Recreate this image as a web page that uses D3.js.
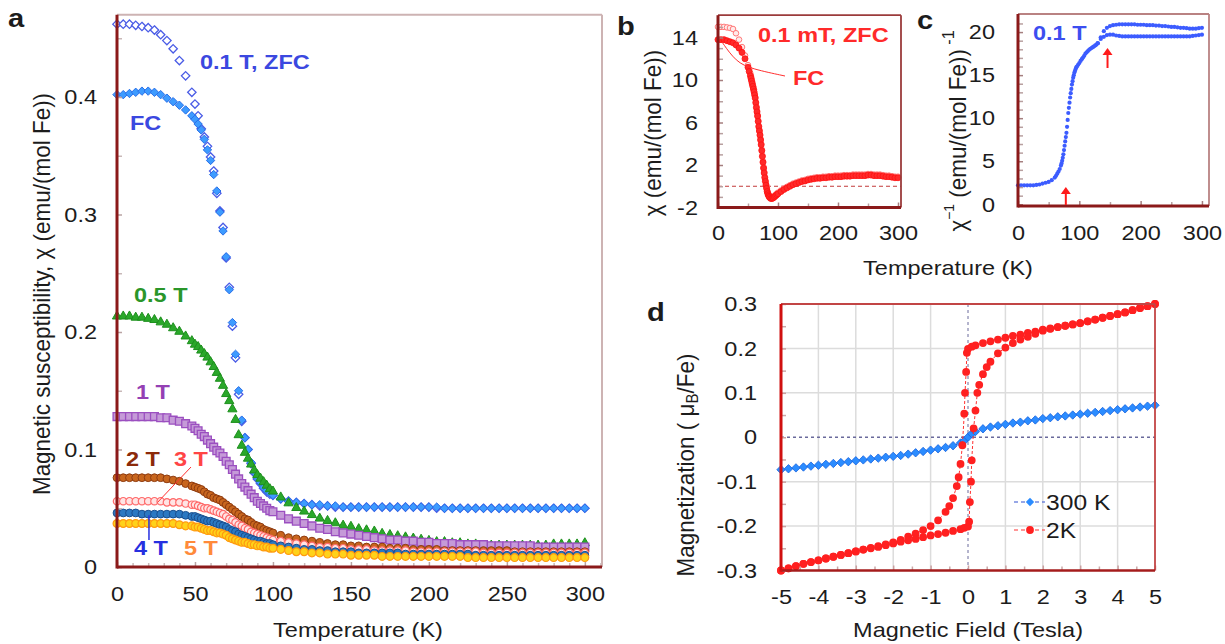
<!DOCTYPE html>
<html>
<head>
<meta charset="utf-8">
<script src="https://cdn.jsdelivr.net/npm/d3@7"></script>
<style>
  body { margin: 0; background: #fff; }
  svg text { font-family: "Liberation Sans", Arial, sans-serif; }
</style>
</head>
<body>
<svg id="fig" width="1225" height="644"></svg>
<script>
(function(){

	// ---------- panel a : chi(T) at several fields ----------
	const tA = [0,4,8,12,16,20,24,28,32,36,40,44,48,
		50,52,54,56,58,60,62,64,66,68,70,72,74,76,78,80,82,84,86,88,90,92,94,96,98,100,
		105,110,115,120,125,130,135,140,145,150,155,160,165,170,175,180,185,190,195,200,
		205,210,215,220,225,230,235,240,245,250,255,260,265,270,275,280,285,290,295,300];

	const zfc01 = [0.462,0.462,0.462,0.461,0.460,0.459,0.457,0.453,0.448,0.441,0.431,0.418,0.404,
		0.394,0.384,0.373,0.366,0.358,0.349,0.337,0.318,0.303,0.289,0.263,0.238,0.205,0.178,0.147,0.124,0.110,0.100,0.088,0.080,0.075,0.071,0.067,0.064,0.062,0.061,
		0.058,0.056,0.055,0.054,0.053,0.052,0.052,0.051,0.051,0.051,0.051,0.051,0.051,0.051,0.051,0.051,0.051,0.051,0.051,0.051,
		0.050,0.050,0.050,0.050,0.050,0.050,0.050,0.050,0.050,0.050,0.050,0.050,0.050,0.050,0.050,0.050,0.050,0.050,0.050,0.050];
	const fc01 = [0.402,0.402,0.403,0.404,0.405,0.405,0.404,0.402,0.399,0.396,0.393,0.389,0.384,
		0.381,0.377,0.372,0.364,0.355,0.346,0.334,0.320,0.302,0.286,0.264,0.236,0.208,0.181,0.150,0.125,0.110,0.100,0.089,0.081,0.076,0.072,0.068,0.065,0.063,0.061,
		0.058,0.056,0.055,0.054,0.053,0.053,0.052,0.052,0.051,0.051,0.051,0.051,0.051,0.051,0.051,0.051,0.051,0.051,0.051,0.051,
		0.051,0.050,0.050,0.050,0.050,0.050,0.050,0.050,0.050,0.050,0.050,0.050,0.050,0.050,0.050,0.050,0.050,0.050,0.050,0.050];
	const chi05 = [0.214,0.214,0.214,0.213,0.213,0.212,0.211,0.209,0.207,0.204,0.201,0.197,0.193,
		0.190,0.188,0.185,0.182,0.179,0.175,0.171,0.166,0.161,0.155,0.148,0.142,0.135,0.126,0.113,0.104,0.098,0.093,0.088,0.083,0.079,0.076,0.073,0.070,0.067,0.065,
		0.060,0.055,0.051,0.048,0.045,0.042,0.040,0.038,0.036,0.035,0.033,0.032,0.031,0.029,0.028,0.027,0.026,0.025,0.024,0.023,
		0.022,0.022,0.021,0.021,0.020,0.020,0.019,0.019,0.019,0.019,0.019,0.019,0.019,0.019,0.019,0.020,0.020,0.020,0.020,0.021];
	const chi1 = [0.128,0.128,0.128,0.128,0.128,0.128,0.128,0.127,0.127,0.125,0.124,0.122,0.120,
		0.118,0.116,0.113,0.111,0.108,0.105,0.102,0.099,0.097,0.094,0.090,0.087,0.083,0.079,0.075,0.071,0.068,0.065,0.062,0.059,0.056,0.054,0.052,0.050,0.048,0.047,
		0.044,0.041,0.039,0.037,0.035,0.033,0.032,0.030,0.029,0.028,0.027,0.026,0.025,0.024,0.023,0.023,0.022,0.022,0.021,0.021,
		0.020,0.020,0.020,0.019,0.019,0.019,0.019,0.018,0.018,0.018,0.018,0.018,0.018,0.017,0.017,0.017,0.017,0.017,0.017,0.017];
	const chi2 = [0.076,0.076,0.076,0.076,0.076,0.076,0.076,0.076,0.075,0.074,0.073,0.071,0.069,
		0.068,0.067,0.066,0.064,0.062,0.061,0.059,0.058,0.057,0.055,0.053,0.051,0.049,0.047,0.045,0.043,0.041,0.040,0.038,0.036,0.035,0.034,0.032,0.031,0.030,0.029,
		0.027,0.025,0.024,0.023,0.022,0.021,0.020,0.019,0.019,0.018,0.018,0.017,0.017,0.017,0.016,0.016,0.016,0.015,0.015,0.015,
		0.015,0.014,0.014,0.014,0.014,0.014,0.014,0.014,0.014,0.014,0.013,0.013,0.013,0.013,0.013,0.013,0.013,0.013,0.013,0.013];
	const chi3 = [0.056,0.056,0.056,0.056,0.056,0.056,0.056,0.056,0.055,0.055,0.055,0.054,0.053,
		0.053,0.052,0.051,0.050,0.050,0.049,0.048,0.047,0.046,0.045,0.043,0.041,0.040,0.038,0.036,0.035,0.033,0.032,0.030,0.029,0.028,0.027,0.026,0.025,0.024,0.023,
		0.022,0.021,0.020,0.019,0.018,0.017,0.017,0.016,0.016,0.015,0.015,0.015,0.014,0.014,0.014,0.014,0.014,0.013,0.013,0.013,
		0.013,0.013,0.013,0.013,0.013,0.013,0.012,0.012,0.012,0.012,0.012,0.012,0.012,0.012,0.012,0.012,0.012,0.012,0.012,0.012];
	const chi4 = [0.046,0.046,0.046,0.046,0.045,0.045,0.045,0.045,0.045,0.045,0.045,0.044,0.043,
		0.043,0.042,0.041,0.040,0.039,0.039,0.038,0.037,0.036,0.035,0.034,0.032,0.031,0.030,0.028,0.027,0.026,0.025,0.024,0.023,0.022,0.022,0.021,0.020,0.020,0.019,
		0.018,0.017,0.016,0.015,0.015,0.014,0.014,0.013,0.013,0.013,0.012,0.012,0.012,0.012,0.012,0.012,0.011,0.011,0.011,0.011,
		0.011,0.011,0.011,0.011,0.011,0.010,0.010,0.010,0.010,0.010,0.010,0.010,0.010,0.010,0.010,0.010,0.010,0.010,0.010,0.010];
	const chi5 = [0.037,0.037,0.037,0.037,0.037,0.037,0.037,0.037,0.037,0.037,0.036,0.035,0.035,
		0.034,0.034,0.033,0.032,0.031,0.031,0.030,0.029,0.029,0.028,0.027,0.025,0.024,0.023,0.022,0.021,0.021,0.020,0.019,0.019,0.018,0.018,0.017,0.017,0.016,0.016,
		0.015,0.014,0.013,0.013,0.012,0.012,0.011,0.011,0.011,0.010,0.010,0.010,0.010,0.009,0.009,0.009,0.009,0.009,0.009,0.009,
		0.009,0.009,0.009,0.009,0.008,0.008,0.008,0.008,0.008,0.008,0.008,0.008,0.008,0.008,0.008,0.008,0.008,0.008,0.008,0.008];

	const ticksTA = [0,50,100,150,200,250,300];
	const ticksChiA = [0,0.1,0.2,0.3,0.4];

	// ---------- panel b : chi(T) at 0.1 mT ----------
	const tB = [0,5,10,15,20,25,30,35,40,45,50,52,54,
		55,56,57,58,59,60,61,62,63,64,65,66,67,68,69,70,71,72,73,74,75,76,77,78,79,80,81,82,83,84,85,
		86,88,90,92,94,96,98,100,
		105,110,115,120,125,130,135,140,145,150,155,160,165,170,175,180,185,190,195,200,
		205,210,215,220,225,230,235,240,245,250,255,260,265,270,275,280,285,290,295,300];
	const zfcB = [15.0,15.0,15.0,14.95,14.9,14.8,14.4,13.8,13.1,12.3,11.4,11.0,10.6,
		10.35,10.1,9.85,9.6,9.35,9.1,8.75,8.4,7.95,7.5,7.1,6.7,6.2,5.7,5.3,4.9,4.45,4.0,3.45,2.9,2.35,1.8,1.35,0.9,0.55,0.2,-0.1,-0.4,-0.6,-0.75,-0.85,
		-0.95,-1.05,-1.05,-1.0,-0.9,-0.8,-0.7,-0.6,
		-0.4,-0.2,-0.05,0.1,0.25,0.35,0.45,0.55,0.6,0.7,0.75,0.8,0.85,0.85,0.9,0.9,0.95,0.95,1.0,1.0,
		1.0,1.05,1.05,1.05,1.1,1.1,1.1,1.1,1.1,1.15,1.15,1.1,1.1,1.1,1.05,1.0,1.0,0.95,0.9,0.9];
	const fcB = [13.8,13.8,13.8,13.7,13.6,13.5,13.3,13.0,12.6,12.0,11.2,10.8,10.4,
		10.15,9.9,9.65,9.4,9.15,8.9,8.6,8.3,7.85,7.4,7.0,6.6,6.1,5.6,5.2,4.8,4.35,3.9,3.35,2.8,2.25,1.7,1.25,0.8,0.45,0.1,-0.2,-0.5,-0.7,-0.85,-0.95,
		-1.05,-1.15,-1.15,-1.1,-1.0,-0.9,-0.8,-0.7,
		-0.5,-0.3,-0.15,0.0,0.15,0.25,0.35,0.45,0.5,0.6,0.65,0.7,0.75,0.75,0.8,0.8,0.85,0.85,0.9,0.9,
		0.9,0.95,0.95,0.95,1.0,1.0,1.0,1.0,1.0,1.05,1.05,1.0,1.0,1.0,0.95,0.9,0.9,0.85,0.8,0.8];
	const ticksTB = [0,100,200,300];
	const ticksChiB = [-2,2,6,10,14];

	// ---------- panel c : inverse chi at 0.1 T ----------
	const tC = [0,5,10,15,20,25,30,35,40,45,50,55,60,
		62,64,66,68,70,
		71,72,73,74,75,76,77,78,79,80,81,82,83,84,85,86,87,88,89,90,91,92,93,94,95,
		96,98,100,102,104,106,108,110,112,114,116,118,120,122,124,126,128,130];
	const invChiC = [2.2,2.2,2.2,2.2,2.2,2.2,2.25,2.3,2.4,2.5,2.6,2.8,3.1,
		3.3,3.55,3.8,4.1,4.5,
		4.75,5.05,5.4,5.8,6.3,6.8,7.3,7.8,8.3,9.0,9.8,10.6,11.2,11.8,12.4,12.9,13.4,13.9,14.3,14.7,15.0,15.3,15.5,15.7,15.9,
		16.0,16.2,16.4,16.65,16.85,17.05,17.25,17.5,17.65,17.8,17.95,18.05,18.15,18.25,18.35,18.45,18.55,18.7];
	const tCHigh = [130,135,140,145,150,155,160,165,170,175,180,185,190,195,200,205,210,215,220,
		225,230,235,240,245,250,255,260,265,270,275,280,285,290,295,300];
	const invChiUpper = [18.7,19.4,20.1,20.5,20.7,20.8,20.85,20.9,20.9,20.9,20.9,20.9,20.9,20.85,20.85,20.85,20.8,20.8,20.8,
		20.75,20.75,20.7,20.7,20.65,20.6,20.6,20.55,20.5,20.5,20.45,20.4,20.4,20.4,20.45,20.5];
	const invChiLower = [18.7,19.2,19.45,19.65,19.7,19.7,19.6,19.55,19.5,19.5,19.5,19.5,19.5,19.5,19.5,19.5,19.5,19.5,19.5,
		19.5,19.5,19.5,19.5,19.5,19.5,19.5,19.5,19.5,19.5,19.5,19.5,19.55,19.6,19.65,19.7];
	const ticksTC = [0,100,200,300];
	const ticksInvC = [0,5,10,15,20];

	// ---------- panel d : M(H) ----------
	const h300 = [-5,-4.8,-4.6,-4.4,-4.2,-4,-3.8,-3.6,-3.4,-3.2,-3,-2.8,-2.6,-2.4,-2.2,-2,-1.8,-1.6,-1.4,-1.2,-1,-0.8,-0.6,-0.4,-0.2,-0.1,
		0,0.1,0.2,0.4,0.6,0.8,1,1.2,1.4,1.6,1.8,2,2.2,2.4,2.6,2.8,3,3.2,3.4,3.6,3.8,4,4.2,4.4,4.6,4.8,5];
	const m300 = [-0.073,-0.071,-0.069,-0.067,-0.065,-0.063,-0.061,-0.059,-0.057,-0.055,-0.053,-0.051,-0.049,-0.047,-0.045,-0.043,-0.041,-0.038,-0.035,-0.032,-0.029,-0.026,-0.023,-0.019,-0.013,-0.008,
		0,0.008,0.013,0.019,0.023,0.026,0.029,0.032,0.034,0.037,0.039,0.042,0.044,0.046,0.048,0.050,0.052,0.054,0.056,0.058,0.060,0.062,0.064,0.066,0.068,0.070,0.072];

	const h2down = [5,4.8,4.6,4.4,4.2,4,3.8,3.6,3.4,3.2,3,2.8,2.6,2.4,2.2,2,1.8,1.6,1.4,1.2,1,0.8,0.6,0.4,0.2,0.1,0,
		-0.03,-0.05,-0.08,-0.1,-0.15,-0.2,-0.25,-0.3,-0.4,-0.5,-0.6,-0.8,
		-1,-1.2,-1.4,-1.6,-1.8,-2,-2.2,-2.4,-2.6,-2.8,-3,-3.2,-3.4,-3.6,-3.8,-4,-4.2,-4.4,-4.6,-4.8,-5];
	const m2down = [0.300,0.295,0.291,0.286,0.281,0.277,0.273,0.269,0.265,0.261,0.257,0.254,0.251,0.248,0.245,0.242,0.238,0.235,0.231,0.228,0.224,0.220,0.216,0.212,0.207,0.204,0.199,
		0.190,0.147,0.100,0.053,-0.018,-0.060,-0.090,-0.110,-0.137,-0.155,-0.168,-0.187,
		-0.200,-0.209,-0.217,-0.224,-0.231,-0.237,-0.241,-0.245,-0.249,-0.253,-0.257,-0.261,-0.265,-0.269,-0.273,-0.277,-0.281,-0.285,-0.290,-0.295,-0.300];
	const h2up = [-5,-4.8,-4.6,-4.4,-4.2,-4,-3.8,-3.6,-3.4,-3.2,-3,-2.8,-2.6,-2.4,-2.2,-2,-1.8,-1.6,-1.4,-1.2,-1,-0.8,-0.6,-0.4,-0.2,-0.1,0,
		0.03,0.05,0.08,0.1,0.15,0.2,0.25,0.3,0.4,0.5,0.6,0.8,
		1,1.2,1.4,1.6,1.8,2,2.2,2.4,2.6,2.8,3,3.2,3.4,3.6,3.8,4,4.2,4.4,4.6,4.8,5];
	const m2up = [-0.300,-0.295,-0.290,-0.285,-0.281,-0.277,-0.273,-0.269,-0.265,-0.261,-0.257,-0.253,-0.250,-0.247,-0.243,-0.239,-0.235,-0.232,-0.229,-0.225,-0.221,-0.218,-0.215,-0.211,-0.207,-0.204,-0.201,
		-0.190,-0.146,-0.100,-0.052,0.020,0.060,0.100,0.118,0.142,0.158,0.170,0.189,
		0.202,0.212,0.220,0.226,0.233,0.240,0.244,0.248,0.251,0.254,0.257,0.261,0.265,0.269,0.273,0.277,0.281,0.286,0.291,0.295,0.300];
	const ticksH = [-5,-4,-3,-2,-1,0,1,2,3,4,5];
	const ticksM = [-0.3,-0.2,-0.1,0,0.1,0.2,0.3];

	const svg = d3.select("#fig");
	const tickFont = 21;
	// the figure looks a little stretched sideways: text is widened to match
	const SX = 1.12, SR = 1.07;

	// marker shapes
	function diamond(r){ return `M0,${-r}L${r},0L0,${r}L${-r},0Z`; }
	function triangle(r){ return `M0,${-r}L${r},${r*0.75}L${-r},${r*0.75}Z`; }
	function square(r){ return `M${-r},${-r}H${r}V${r}H${-r}Z`; }
	function circle(r){ return `M${-r},0A${r},${r} 0 1,0 ${r},0A${r},${r} 0 1,0 ${-r},0Z`; }

	function drawSeries(g, xs, ys, xv, yv, o) {
		const pts = xv.map((v, i) => [v, yv[i]]);
		if (o.line) {
			g.append("path").datum(pts)
				.attr("d", d3.line().x(d => xs(d[0])).y(d => ys(d[1])))
				.attr("fill", "none").attr("stroke", o.line)
				.attr("stroke-width", 1).attr("stroke-dasharray", "3,2");
		}
		g.append("g").selectAll("path").data(pts).enter().append("path")
			.attr("transform", d => `translate(${xs(d[0])},${ys(d[1])})`)
			.attr("d", o.shape)
			.attr("fill", o.fill)
			.attr("stroke", o.stroke || "none")
			.attr("stroke-width", o.sw || 1);
	}

	function styleAxis(sel, tickColor) {
		sel.select(".domain").remove();
		sel.selectAll(".tick line").attr("stroke", tickColor).attr("stroke-width", 1.5);
		sel.selectAll(".tick text").attr("font-size", tickFont).attr("fill", "#1c1c1c")
			.attr("transform", `scale(${SX},1)`)
			.style("font-family", '"Liberation Sans", Arial, sans-serif');
	}

	// draw axes box and tick marks of one panel
	function frame(g, xs, ys, o) {
		const [x0, x1] = xs.range();
		const [y0, y1] = ys.range();
		if (o.xMinor) {
			const ax = g.append("g").attr("transform", `translate(0,${y0})`)
				.call(d3.axisBottom(xs).tickValues(o.xMinor).tickSize(-4).tickFormat(""));
			styleAxis(ax, o.minorColor);
		}
		if (o.yMinor) {
			const ay = g.append("g").attr("transform", `translate(${x0},0)`)
				.call(d3.axisLeft(ys).tickValues(o.yMinor).tickSize(-5).tickFormat(""));
			styleAxis(ay, o.minorColor);
		}
		const axB = g.append("g").attr("transform", `translate(0,${y0})`)
			.call(d3.axisBottom(xs).tickValues(o.xTicks).tickSize(-5).tickPadding(o.xPad).tickFormat(o.xFmt));
		styleAxis(axB, o.majorColor);
		const axL = g.append("g").attr("transform", `translate(${x0},0)`)
			.call(d3.axisLeft(ys).tickValues(o.yTicks).tickSize(-5).tickPadding(o.yGap / SX).tickFormat(o.yFmt));
		styleAxis(axL, o.majorColor);

		g.append("line").attr("x1", x0).attr("x2", x1).attr("y1", y1).attr("y2", y1)
			.attr("stroke", o.border).attr("stroke-width", o.borderW);
		g.append("line").attr("x1", x1).attr("x2", x1).attr("y1", y0).attr("y2", y1)
			.attr("stroke", o.border).attr("stroke-width", o.borderW);
		g.append("line").attr("x1", x0).attr("x2", x1).attr("y1", y0).attr("y2", y0)
			.attr("stroke", o.bottom).attr("stroke-width", o.bottomW);
		g.append("line").attr("x1", x0).attr("x2", x0).attr("y1", y0 + o.bottomW / 2).attr("y2", y1)
			.attr("stroke", o.left).attr("stroke-width", o.leftW);
	}

	function label(g, x, y, txt, o) {
		const tr = o.rotate
			? `translate(${x},${y}) rotate(-90) scale(${SR},${SX})`
			: `translate(${x},${y}) scale(${SX},1)`;
		return g.append("text").attr("transform", tr).text(txt)
			.attr("font-size", o.size || 21).attr("fill", o.color || "#1c1c1c")
			.attr("font-weight", o.bold ? "bold" : "normal")
			.attr("text-anchor", o.anchor || "start")
			.attr("dominant-baseline", "central");
	}

	const fmt1 = d => d === 0 ? "0" : d.toFixed(1);
	const fmtInt = d => String(d);

	// ================= panel a =================
	const gA = svg.append("g");
	const xA = d3.scaleLinear().domain([0, 311]).range([117, 602]);
	const yA = d3.scaleLinear().domain([0, 0.47]).range([567, 14.75]);

	drawSeries(gA, xA, yA, tA, zfc01, {shape: diamond(4.2), fill: "#ffffff", stroke: "#4a5ce6", sw: 1.3});
	drawSeries(gA, xA, yA, tA, fc01, {shape: diamond(4.2), fill: "#3d9bff", stroke: "#2a6fe8", sw: 1});
	drawSeries(gA, xA, yA, tA, chi05, {shape: triangle(4.6), fill: "#2aa82a", stroke: "#1d8f1d", sw: 1});
	drawSeries(gA, xA, yA, tA, chi1, {shape: square(3.9), fill: "#c59ad8", stroke: "#9b4fc0", sw: 1.3});
	drawSeries(gA, xA, yA, tA, chi2, {shape: circle(3.9), fill: "#c8661e", stroke: "#8e3b10", sw: 1});
	drawSeries(gA, xA, yA, tA, chi3, {shape: circle(3.7), fill: "#ffe4e4", stroke: "#ff6a6a", sw: 1.2});
	drawSeries(gA, xA, yA, tA, chi4, {shape: circle(3.9), fill: "#2b78c2", stroke: "#1b4f8f", sw: 1});
	drawSeries(gA, xA, yA, tA, chi5, {shape: circle(3.9), fill: "#ffd21a", stroke: "#ff9a10", sw: 1.2});

	frame(gA, xA, yA, {
		xTicks: ticksTA, yTicks: ticksChiA,
		xMinor: d3.range(10, 311, 10).filter(d => d % 50 !== 0),
		yMinor: [0.05, 0.15, 0.25, 0.35, 0.45],
		xPad: 19, yGap: 20, xFmt: fmtInt, yFmt: fmt1,
		majorColor: "#b9a3a3", minorColor: "#c8b8b8",
		border: "#cdb3b3", borderW: 2, bottom: "#8b1a1a", bottomW: 3, left: "#8b1a1a", leftW: 3
	});

	label(gA, 42, 294, "Magnetic susceptibility, χ (emu/(mol Fe))", {anchor: "middle", rotate: true});
	label(gA, 358, 630, "Temperature (K)", {anchor: "middle"});
	label(gA, 8, 18, "a", {bold: true, size: 26});

	label(gA, 200, 62, "0.1 T, ZFC", {bold: true, color: "#3b48e0"});
	label(gA, 130, 123, "FC", {bold: true, color: "#3b48e0"});
	label(gA, 134, 295, "0.5 T", {bold: true, color: "#2a962a"});
	label(gA, 136, 392, "1 T", {bold: true, color: "#9440b4"});
	label(gA, 126, 459, "2 T", {bold: true, color: "#8b2a0a"});
	label(gA, 174, 459, "3 T", {bold: true, color: "#ff4545"});
	label(gA, 134, 548, "4 T", {bold: true, color: "#2630e0"});
	label(gA, 184, 548, "5 T", {bold: true, color: "#ff8a3a"});
	gA.append("line").attr("x1", 191).attr("y1", 467).attr("x2", xA(26)).attr("y2", yA(0.055))
		.attr("stroke", "#ff3030").attr("stroke-width", 1);
	gA.append("line").attr("x1", xA(20.5)).attr("y1", yA(0.044)).attr("x2", xA(20.5)).attr("y2", 540)
		.attr("stroke", "#2630e0").attr("stroke-width", 1.5);

	// ================= panel b =================
	const gB = svg.append("g");
	const xB = d3.scaleLinear().domain([0, 305]).range([718, 901]);
	const yB = d3.scaleLinear().domain([-2, 16.1]).range([207.5, 15.2]);

	gB.append("line").attr("x1", 718).attr("x2", 901).attr("y1", yB(0)).attr("y2", yB(0))
		.attr("stroke", "#c23a3a").attr("stroke-width", 1).attr("stroke-dasharray", "4,3");
	drawSeries(gB, xB, yB, tB, zfcB, {shape: circle(2.8), fill: "#ffeaea", stroke: "#ff7a7a", sw: 1});
	drawSeries(gB, xB, yB, tB, fcB, {shape: circle(3), fill: "#ff2a2a", stroke: "#ff1010", sw: 0.8});

	frame(gB, xB, yB, {
		xTicks: ticksTB, yTicks: ticksChiB,
		xMinor: [50, 150, 250],
		yMinor: d3.range(-1, 16, 1).filter(d => (d + 2) % 4 !== 0),
		xPad: 18, yGap: 20, xFmt: fmtInt, yFmt: fmtInt,
		majorColor: "#a57f7f", minorColor: "#b8a0a0",
		border: "#9b3b3b", borderW: 1.8, bottom: "#8b1a1a", bottomW: 3, left: "#8b1a1a", leftW: 3
	});

	label(gB, 653, 133, "χ (emu/(mol Fe))", {anchor: "middle", rotate: true});
	label(gB, 617, 26, "b", {bold: true, size: 26});
	label(gB, 758, 35, "0.1 mT, ZFC", {bold: true, color: "#ff2a2a"});
	label(gB, 793, 78, "FC", {bold: true, color: "#ff2a2a"});
	gB.append("path")
		.attr("d", d3.line().curve(d3.curveBasis)([[722, 42], [736, 62], [752, 69], [785, 76]]))
		.attr("fill", "none").attr("stroke", "#ff3030").attr("stroke-width", 1);

	// ================= panel c =================
	const gC = svg.append("g");
	const xC = d3.scaleLinear().domain([0, 311.5]).range([1018, 1209]);
	const yC = d3.scaleLinear().domain([-0.2, 22.1]).range([206, 14]);

	drawSeries(gC, xC, yC, tC, invChiC, {shape: circle(2.1), fill: "#3c5cff"});
	drawSeries(gC, xC, yC, tCHigh, invChiUpper, {shape: circle(2.1), fill: "#3c5cff"});
	drawSeries(gC, xC, yC, tCHigh, invChiLower, {shape: circle(2.1), fill: "#3c5cff"});

	frame(gC, xC, yC, {
		xTicks: ticksTC, yTicks: ticksInvC,
		xMinor: [50, 150, 250],
		yMinor: d3.range(1, 22, 1).filter(d => d % 5 !== 0),
		xPad: 19, yGap: 23, xFmt: fmtInt, yFmt: fmtInt,
		majorColor: "#a57f7f", minorColor: "#b8a0a0",
		border: "#b98282", borderW: 1.8, bottom: "#8b1a1a", bottomW: 3, left: "#8b1a1a", leftW: 3
	});

	// red arrows marking the transitions
	function arrow(g, x, yBase, yTip) {
		g.append("line").attr("x1", x).attr("x2", x).attr("y1", yBase).attr("y2", yTip + 6)
			.attr("stroke", "#ff1a1a").attr("stroke-width", 2);
		g.append("path").attr("d", `M${x},${yTip}L${x + 5},${yTip + 7}L${x - 5},${yTip + 7}Z`).attr("fill", "#ff1a1a");
	}
	arrow(gC, xC(78), 205, 187);
	arrow(gC, xC(146), 68, 48);

	const tc = gC.append("text").attr("transform", `translate(958,131) rotate(-90) scale(${SR},${SX})`)
		.attr("text-anchor", "middle").attr("dominant-baseline", "central")
		.attr("font-size", 21).attr("fill", "#1c1c1c");
	tc.append("tspan").text("χ");
	tc.append("tspan").attr("dy", -8).attr("font-size", 13).text("−1");
	tc.append("tspan").attr("dy", 8).text(" (emu/(mol Fe))");
	tc.append("tspan").attr("dy", -9).attr("font-size", 15).text(" -1");
	label(gC, 917, 20, "c", {bold: true, size: 26});
	label(gC, 1033, 33, "0.1 T", {bold: true, color: "#3c4ef0"});

	label(svg, 948, 268, "Temperature (K)", {anchor: "middle"});

	// ================= panel d =================
	const gD = svg.append("g");
	const xD = d3.scaleLinear().domain([-5, 5]).range([781, 1155]);
	const yD = d3.scaleLinear().domain([-0.3, 0.3]).range([570.5, 304]);

	gD.append("g").selectAll("line").data([-4,-3,-2,-1,1,2,3,4]).enter().append("line")
		.attr("x1", d => xD(d)).attr("x2", d => xD(d)).attr("y1", 304).attr("y2", 570.5)
		.attr("stroke", "#dcdcdc").attr("stroke-width", 1.5);
	gD.append("g").selectAll("line").data([-0.2,-0.1,0.1,0.2]).enter().append("line")
		.attr("x1", 781).attr("x2", 1155).attr("y1", d => yD(d)).attr("y2", d => yD(d))
		.attr("stroke", "#dcdcdc").attr("stroke-width", 1.5);
	gD.append("line").attr("x1", xD(0)).attr("x2", xD(0)).attr("y1", 304).attr("y2", 570.5)
		.attr("stroke", "#6a6a9c").attr("stroke-width", 1).attr("stroke-dasharray", "3,3");
	gD.append("line").attr("x1", 781).attr("x2", 1155).attr("y1", yD(0)).attr("y2", yD(0))
		.attr("stroke", "#6a6a9c").attr("stroke-width", 1.5).attr("stroke-dasharray", "3,3");

	drawSeries(gD, xD, yD, h300, m300, {shape: diamond(4.2), fill: "#2b8cff", stroke: "#1662e0", sw: 0.8, line: "#3050d0"});
	drawSeries(gD, xD, yD, h2down, m2down, {shape: circle(3.9), fill: "#ff2020", line: "#ff3030"});
	drawSeries(gD, xD, yD, h2up, m2up, {shape: circle(3.9), fill: "#ff2020", line: "#ff3030"});

	frame(gD, xD, yD, {
		xTicks: ticksH, yTicks: ticksM,
		xMinor: d3.range(-4.5, 5, 1),
		yMinor: [-0.25, -0.15, -0.05, 0.05, 0.15, 0.25],
		xPad: 19, yGap: 24, xFmt: fmtInt, yFmt: fmt1,
		majorColor: "#c9a0a0", minorColor: "#c9a8a8",
		border: "#c24545", borderW: 1.8, bottom: "#a51c1c", bottomW: 2.5, left: "#d01010", leftW: 3
	});

	label(gD, 968, 630, "Magnetic Field (Tesla)", {anchor: "middle"});
	const td = gD.append("text").attr("transform", `translate(686,465) rotate(-90) scale(${SR},${SX})`)
		.attr("text-anchor", "middle").attr("dominant-baseline", "central")
		.attr("font-size", 21).attr("fill", "#1c1c1c");
	td.append("tspan").text("Magnetization ( μ");
	td.append("tspan").attr("dy", 5).attr("font-size", 14).text("B");
	td.append("tspan").attr("dy", -5).text("/Fe)");
	label(gD, 647, 312, "d", {bold: true, size: 26});

	// legend
	const legend = [
		{y: 502, name: "300 K", shape: diamond(4.2), fill: "#2b8cff", line: "#3050d0"},
		{y: 530, name: "2K", shape: circle(3.9), fill: "#ff2020", line: "#ff3030"}
	];
	legend.forEach(l => {
		gD.append("line").attr("x1", 1014).attr("x2", 1045).attr("y1", l.y).attr("y2", l.y)
			.attr("stroke", l.line).attr("stroke-width", 1.2).attr("stroke-dasharray", "4,3");
		gD.append("path").attr("transform", `translate(1030,${l.y})`).attr("d", l.shape).attr("fill", l.fill);
		label(gD, 1046, l.y, l.name, {size: 22});
	});

}());
</script>
</body>
</html>
